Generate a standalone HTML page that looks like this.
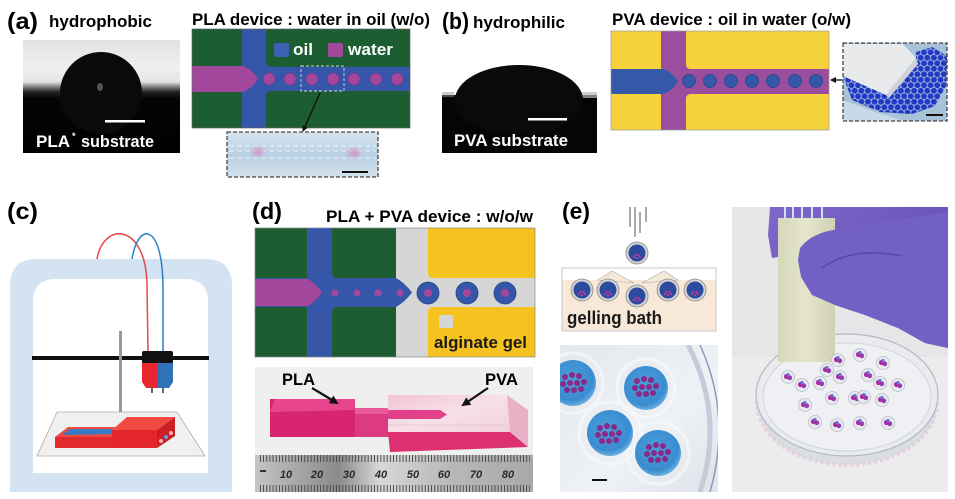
<!DOCTYPE html>
<html><head><meta charset="utf-8">
<style>
html,body{margin:0;padding:0;background:#fff;}
svg{display:block;}
text{font-family:"Liberation Sans",Arial,sans-serif;font-weight:bold;}
</style></head>
<body>
<svg width="955" height="499" viewBox="0 0 955 499" xmlns="http://www.w3.org/2000/svg">
<defs>
  <marker id="ah" markerWidth="9" markerHeight="9" refX="7" refY="4.5" orient="auto" markerUnits="userSpaceOnUse">
    <path d="M0,0 L9,4.5 L0,9 z" fill="#111"/>
  </marker>
  <marker id="ahs" markerWidth="6" markerHeight="6" refX="5" refY="3" orient="auto" markerUnits="userSpaceOnUse">
    <path d="M0,0 L6,3 L0,6 z" fill="#111"/>
  </marker>
  <linearGradient id="gA" x1="0" y1="0" x2="0" y2="1">
    <stop offset="0" stop-color="#e2e2e2"/>
    <stop offset="0.25" stop-color="#f0f0f0"/>
    <stop offset="0.37" stop-color="#e4e4e4"/>
    <stop offset="0.41" stop-color="#8a8a8a"/>
    <stop offset="0.46" stop-color="#222"/>
    <stop offset="0.52" stop-color="#050505"/>
    <stop offset="1" stop-color="#000"/>
  </linearGradient>
  <linearGradient id="gInA" x1="0" y1="0" x2="0" y2="1">
    <stop offset="0" stop-color="#d6e4ee"/>
    <stop offset="0.5" stop-color="#b8d0e2"/>
    <stop offset="1" stop-color="#d4e2ec"/>
  </linearGradient>
  <radialGradient id="pinkSpot">
    <stop offset="0" stop-color="#d88cc8" stop-opacity="0.9"/>
    <stop offset="1" stop-color="#d88cc8" stop-opacity="0"/>
  </radialGradient>
  <pattern id="beadPat" patternUnits="userSpaceOnUse" width="6.6" height="11">
    <rect width="6.6" height="11" fill="#8eaedc"/>
    <circle cx="3.3" cy="2.75" r="2.9" fill="#2538c4"/>
    <circle cx="0" cy="8.25" r="2.9" fill="#2538c4"/>
    <circle cx="6.6" cy="8.25" r="2.9" fill="#2538c4"/>
  </pattern>
  <pattern id="tick" patternUnits="userSpaceOnUse" width="3.17" height="8">
    <rect x="0" y="0" width="0.9" height="8" fill="#444"/>
  </pattern>
  <linearGradient id="ruler" x1="0" y1="0" x2="1" y2="0">
    <stop offset="0" stop-color="#c4c4c4"/>
    <stop offset="0.3" stop-color="#8a8a8a"/>
    <stop offset="0.45" stop-color="#d8d8d8"/>
    <stop offset="0.7" stop-color="#b8b8b8"/>
    <stop offset="1" stop-color="#a8a8a8"/>
  </linearGradient>
  <linearGradient id="pvaTop" x1="0" y1="0" x2="1" y2="1">
    <stop offset="0" stop-color="#f2c4d6"/>
    <stop offset="0.5" stop-color="#f7e0e8"/>
    <stop offset="1" stop-color="#f0d0dc"/>
  </linearGradient>
  <linearGradient id="eBg" x1="0" y1="0" x2="1" y2="1">
    <stop offset="0" stop-color="#e4e8ee"/>
    <stop offset="0.6" stop-color="#eef1f5"/>
    <stop offset="1" stop-color="#dfe3ea"/>
  </linearGradient>
  <radialGradient id="bigBead" cx="0.45" cy="0.4" r="0.6">
    <stop offset="0" stop-color="#4aa0dc"/>
    <stop offset="0.8" stop-color="#3a8cd0"/>
    <stop offset="1" stop-color="#6aaee0"/>
  </radialGradient>
  <linearGradient id="glove" x1="0" y1="0" x2="1" y2="1">
    <stop offset="0" stop-color="#7e68cc"/>
    <stop offset="0.5" stop-color="#6c56bc"/>
    <stop offset="1" stop-color="#7a64c8"/>
  </linearGradient>
  <linearGradient id="devE" x1="0" y1="0" x2="1" y2="0">
    <stop offset="0" stop-color="#d6d8ba"/>
    <stop offset="0.5" stop-color="#e4e5cc"/>
    <stop offset="1" stop-color="#cfd1b2"/>
  </linearGradient>
  <g id="cl">
    <circle cx="-10" cy="-8" r="3" fill="#8a2a88"/>
    <circle cx="-3" cy="-10" r="3" fill="#8a2a88"/>
    <circle cx="4" cy="-9" r="3" fill="#8a2a88"/>
    <circle cx="-12" cy="-1" r="3" fill="#8a2a88"/>
    <circle cx="-5" cy="-2" r="3" fill="#8a2a88"/>
    <circle cx="2" cy="-2" r="3" fill="#8a2a88"/>
    <circle cx="9" cy="-3" r="3" fill="#8a2a88"/>
    <circle cx="-8" cy="5" r="3" fill="#8a2a88"/>
    <circle cx="-1" cy="5" r="3" fill="#8a2a88"/>
    <circle cx="6" cy="4" r="3" fill="#8a2a88"/>
  </g>
  <g id="sb">
    <circle r="6.5" fill="#e8eaf0" stroke="#b8bcc8" stroke-width="0.8"/>
    <circle cx="-1.5" cy="-0.5" r="2.6" fill="#b02ca0"/>
    <circle cx="1.8" cy="0.8" r="2.4" fill="#9a3ab0"/>
    <circle cx="0" cy="-2.5" r="1.6" fill="#5a7ad0"/>
  </g>
  <g id="bb">
    <circle r="11" fill="#d4d4d4" stroke="#8a8a8a" stroke-width="0.8"/>
    <circle r="8.5" fill="#2c4a9e"/>
    <circle cx="-3" cy="4" r="1" fill="#e0349c"/>
    <circle cx="0" cy="5" r="1" fill="#e0349c"/>
    <circle cx="3" cy="4" r="1" fill="#e0349c"/>
    <circle cx="-1.5" cy="2" r="1" fill="#e0349c"/>
    <circle cx="1.5" cy="2" r="1" fill="#e0349c"/>
  </g>
</defs>

<rect width="955" height="499" fill="#fff"/>

<!-- ================= (a) ================= -->
<text x="7" y="29" font-size="23" font-weight="normal" textLength="31" lengthAdjust="spacingAndGlyphs">(a)</text>
<text x="49" y="27" font-size="17" textLength="103" lengthAdjust="spacingAndGlyphs">hydrophobic</text>

<rect x="23" y="40" width="157" height="113" fill="url(#gA)"/>
<circle cx="101" cy="93" r="41" fill="#0a0a0a"/>
<ellipse cx="100" cy="87" rx="3" ry="4" fill="#555"/>
<rect x="105" y="120" width="40" height="2.5" fill="#fff"/>
<text x="36" y="147" font-size="17" fill="#fff" textLength="34" lengthAdjust="spacingAndGlyphs">PLA</text>
<text x="72" y="139" font-size="9" fill="#fff">*</text>
<text x="81" y="147" font-size="17" fill="#fff" textLength="73" lengthAdjust="spacingAndGlyphs">substrate</text>

<text x="192" y="25" font-size="17" textLength="238" lengthAdjust="spacingAndGlyphs">PLA device : water in oil (w/o)</text>
<rect x="192" y="29" width="218" height="99" fill="#3656aa"/>
<rect x="192" y="29" width="50" height="38" fill="#1c5e31"/>
<rect x="192" y="91" width="50" height="37" fill="#1c5e31"/>
<path d="M266,29 H410 V67 H271 Q266,67 266,62 Z" fill="#1c5e31"/>
<path d="M266,128 H410 V91 H271 Q266,91 266,96 Z" fill="#1c5e31"/>
<path d="M192,66 H242 Q252,69 258,79 Q252,89 242,92 H192 Z" fill="#a3479c"/>
<g fill="#a3479c" stroke="#7a2e78" stroke-width="0.5">
  <circle cx="269" cy="79" r="6"/><circle cx="290" cy="79" r="6"/><circle cx="312" cy="79" r="6"/>
  <circle cx="333" cy="79" r="6"/><circle cx="354" cy="79" r="6"/><circle cx="376" cy="79" r="6"/>
  <circle cx="397" cy="79" r="6"/>
</g>
<rect x="192" y="29" width="218" height="99" fill="none" stroke="#666" stroke-width="0.7"/>
<rect x="274" y="43" width="15" height="14" rx="2" fill="#3d62b4"/>
<text x="293" y="55" font-size="17" fill="#fff" textLength="20" lengthAdjust="spacingAndGlyphs">oil</text>
<rect x="328" y="43" width="15" height="14" rx="2" fill="#a3479c"/>
<text x="348" y="55" font-size="17" fill="#fff" textLength="45" lengthAdjust="spacingAndGlyphs">water</text>
<rect x="301" y="66" width="43" height="25" fill="none" stroke="#d8d8e8" stroke-width="0.9" stroke-dasharray="3,2"/>
<line x1="320" y1="93" x2="303" y2="131" stroke="#111" stroke-width="1.4" marker-end="url(#ahs)"/>

<rect x="227" y="132" width="151" height="45" fill="url(#gInA)"/>
<g stroke="#eef4f8" stroke-width="1.2" stroke-dasharray="5,3" opacity="0.8">
  <line x1="229" y1="146" x2="376" y2="146"/>
  <line x1="229" y1="151" x2="376" y2="151"/>
  <line x1="229" y1="158" x2="376" y2="158"/>
</g>
<ellipse cx="258" cy="152" rx="9" ry="7" fill="url(#pinkSpot)"/>
<ellipse cx="354" cy="153" rx="9" ry="7" fill="url(#pinkSpot)"/>
<rect x="342" y="171" width="26" height="2" fill="#111"/>
<rect x="227" y="132" width="151" height="45" fill="none" stroke="#444" stroke-width="1.3" stroke-dasharray="4,2"/>

<!-- ================= (b) ================= -->
<text x="442" y="29" font-size="23" font-weight="normal" textLength="27" lengthAdjust="spacingAndGlyphs">(b)</text>
<text x="473" y="28" font-size="17" textLength="92" lengthAdjust="spacingAndGlyphs">hydrophilic</text>

<rect x="442" y="95" width="155" height="58" fill="#050505"/>
<rect x="577" y="92" width="20" height="6" fill="#bbb" opacity="0.7"/>
<rect x="442" y="92" width="12" height="5" fill="#999" opacity="0.5"/>
<ellipse cx="519" cy="100" rx="64" ry="35" fill="#0a0a0a"/>
<rect x="528" y="118" width="39" height="2.5" fill="#fff"/>
<text x="454" y="146" font-size="17" fill="#fff" textLength="114" lengthAdjust="spacingAndGlyphs">PVA substrate</text>

<text x="612" y="25" font-size="17" textLength="239" lengthAdjust="spacingAndGlyphs">PVA device : oil in water (o/w)</text>
<rect x="611" y="31" width="218" height="99" fill="#9a4f9e"/>
<rect x="611" y="31" width="50" height="38" fill="#f6d23c"/>
<rect x="611" y="94" width="50" height="36" fill="#f6d23c"/>
<path d="M686,31 H829 V69 H691 Q686,69 686,64 Z" fill="#f6d23c"/>
<path d="M686,130 H829 V94 H691 Q686,94 686,99 Z" fill="#f6d23c"/>
<path d="M611,69 H663 Q672,72 678,81.5 Q672,91 663,94 H611 Z" fill="#3558a8"/>
<g fill="#3558a8" stroke="#26408c" stroke-width="0.7">
  <circle cx="689" cy="81" r="6.5"/><circle cx="710" cy="81" r="6.5"/><circle cx="731" cy="81" r="6.5"/>
  <circle cx="752" cy="81" r="6.5"/><circle cx="773" cy="81" r="6.5"/><circle cx="795" cy="81" r="6.5"/>
  <circle cx="816" cy="81" r="6.5"/>
</g>
<rect x="611" y="31" width="218" height="99" fill="none" stroke="#999" stroke-width="0.7"/>
<line x1="842" y1="80" x2="831" y2="80" stroke="#111" stroke-width="1.3" marker-end="url(#ahs)"/>

<rect x="843" y="43" width="104" height="78" fill="#a8c2d8"/>
<path d="M843,100 L875,112 L905,121 L843,121 Z" fill="#c8dae8"/>
<path d="M843,76 L852,100 L880,112 L912,114 L935,106 L946,86 L947,56 L932,47 L916,52 L916,58 L886,95 Z" fill="url(#beadPat)"/>
<path d="M843,44 L903,44 L916,58 L886,95 L843,76 Z" fill="#e8eaec"/>
<path d="M886,95 L916,58 L918,64 L889,98 Z" fill="#cfd3d8"/>
<rect x="926" y="114" width="17" height="2" fill="#111"/>
<rect x="843" y="43" width="104" height="78" fill="none" stroke="#444" stroke-width="1.3" stroke-dasharray="4,2"/>

<!-- ================= (c) ================= -->
<text x="7" y="219" font-size="23" font-weight="normal" textLength="31" lengthAdjust="spacingAndGlyphs">(c)</text>
<path d="M10,492 V286 Q10,259 37,259 H205 Q232,259 232,286 V492 Z" fill="#d4e3f2"/>
<path d="M33,473 V302 Q33,279 56,279 H185 Q208,279 208,302 V473 Z" fill="#fff"/>
<path d="M97,259 C103,222 146,222 147,285 L148,352" fill="none" stroke="#e8444c" stroke-width="1.5"/>
<path d="M132,259 C138,222 162,222 163,285 L163,352" fill="none" stroke="#2f7ec4" stroke-width="1.5"/>
<rect x="32" y="356" width="177" height="4" fill="#111"/>
<rect x="119" y="331" width="3" height="81" fill="#999"/>
<rect x="142" y="351" width="31" height="13" rx="2" fill="#111"/>
<path d="M142,363 H157.5 V388 H146 L142,382 Z" fill="#e8282e"/>
<path d="M157.5,363 H173 V382 L169,388 H157.5 Z" fill="#2f72b8"/>
<rect x="151" y="388" width="2" height="5" fill="#666"/>
<rect x="162" y="388" width="2" height="5" fill="#666"/>
<polygon points="57,412 177,412 205,456 37,456" fill="#f0f0f0" stroke="#aaa" stroke-width="0.8"/>
<polygon points="55,437 68,427 125,427 112,437" fill="#ef4a40"/>
<polygon points="62,435 70,429 122,429 116,434" fill="#3a7ac4"/>
<rect x="55" y="437" width="57" height="11" fill="#e22a2e"/>
<polygon points="112,430 127,417 175,417 157,430" fill="#f04a42"/>
<rect x="112" y="430" width="45" height="18" fill="#e4262c"/>
<polygon points="157,430 175,417 175,436 157,448" fill="#cc1e24"/>
<circle cx="161" cy="441" r="2" fill="#f4b0b8"/>
<circle cx="166" cy="437" r="2" fill="#5aa0e0"/>
<circle cx="171" cy="433" r="2" fill="#f4b0b8"/>

<!-- ================= (d) ================= -->
<text x="252" y="219" font-size="23" font-weight="normal" textLength="30" lengthAdjust="spacingAndGlyphs">(d)</text>
<text x="326" y="222" font-size="17" textLength="207" lengthAdjust="spacingAndGlyphs">PLA + PVA device : w/o/w</text>

<rect x="255" y="228" width="280" height="129" fill="#d6d6d6"/>
<rect x="255" y="228" width="141" height="129" fill="#3656aa"/>
<rect x="255" y="228" width="52" height="50" fill="#1c5e31"/>
<rect x="255" y="307" width="52" height="50" fill="#1c5e31"/>
<path d="M332,228 H396 V278 H337 Q332,278 332,273 Z" fill="#1c5e31"/>
<path d="M332,357 H396 V307 H337 Q332,307 332,312 Z" fill="#1c5e31"/>
<path d="M396,278 Q405,283 412,292.5 Q405,302 396,307 Z" fill="#3656aa"/>
<path d="M255,279 H308 Q316,284 322,292.5 Q316,301 308,306 H255 Z" fill="#a3479c"/>
<g fill="#a3479c">
  <circle cx="335" cy="293" r="3.6"/><circle cx="357" cy="293" r="3.6"/>
  <circle cx="378" cy="293" r="3.6"/><circle cx="400" cy="293" r="3.6"/>
</g>
<path d="M428,228 H535 V278 H433 Q428,278 428,273 Z" fill="#f6c21f"/>
<path d="M428,357 H535 V307 H433 Q428,307 428,312 Z" fill="#f6c21f"/>
<g fill="#3656aa" stroke="#24408a" stroke-width="0.8">
  <circle cx="428" cy="293" r="11"/><circle cx="467" cy="293" r="11"/><circle cx="505" cy="293" r="11"/>
</g>
<g fill="#a3479c">
  <circle cx="428" cy="293" r="4"/><circle cx="467" cy="293" r="4"/><circle cx="505" cy="293" r="4"/>
</g>
<rect x="255" y="228" width="280" height="129" fill="none" stroke="#888" stroke-width="0.7"/>
<rect x="439" y="315" width="14" height="13" rx="2" fill="#d6d6d6"/>
<text x="434" y="348" font-size="17" fill="#1a1a1a" textLength="93" lengthAdjust="spacingAndGlyphs">alginate gel</text>

<rect x="255" y="367" width="278" height="88" fill="#efefee"/>
<rect x="270" y="399" width="85" height="38" fill="#d8256f"/>
<polygon points="270,412 275,399 355,399 355,410" fill="#e8468c"/>
<rect x="355" y="408" width="36" height="29" fill="#dc3a82"/>
<polygon points="355,408 391,408 391,414 355,414" fill="#e85a98"/>
<polygon points="388,395 507,395 510,432 388,432" fill="url(#pvaTop)"/>
<polygon points="388,432 510,432 528,447 390,452" fill="#dc3070"/>
<polygon points="507,395 528,410 528,447 510,432" fill="#eab0c6"/>
<path d="M388,410 H440 L447,414.5 L440,419 H388 Z" fill="#e0418a"/>
<line x1="388" y1="425" x2="507" y2="425" stroke="#ecc4d4" stroke-width="1"/>
<text x="282" y="385" font-size="17" textLength="33" lengthAdjust="spacingAndGlyphs">PLA</text>
<text x="485" y="385" font-size="17" textLength="33" lengthAdjust="spacingAndGlyphs">PVA</text>
<line x1="312" y1="388" x2="337" y2="403" stroke="#111" stroke-width="2.2" marker-end="url(#ah)"/>
<line x1="488" y1="388" x2="463" y2="405" stroke="#111" stroke-width="2.2" marker-end="url(#ah)"/>

<rect x="255" y="455" width="278" height="37" fill="url(#ruler)"/>
<rect x="258" y="455" width="272" height="7" fill="url(#tick)"/>
<rect x="258" y="485" width="272" height="7" fill="url(#tick)"/>
<g fill="#2a2a2a" font-size="11" font-weight="normal" font-style="italic" text-anchor="middle">
  <text x="286" y="478">10</text><text x="317" y="478">20</text><text x="349" y="478">30</text>
  <text x="381" y="478">40</text><text x="413" y="478">50</text><text x="444" y="478">60</text>
  <text x="476" y="478">70</text><text x="508" y="478">80</text>
</g>
<rect x="260" y="470" width="6" height="2" fill="#333"/>

<!-- ================= (e) ================= -->
<text x="562" y="219" font-size="23" font-weight="normal" textLength="28" lengthAdjust="spacingAndGlyphs">(e)</text>
<g stroke="#555" stroke-width="1">
  <line x1="630" y1="207" x2="630" y2="227"/>
  <line x1="635" y1="207" x2="635" y2="237"/>
  <line x1="640" y1="212" x2="640" y2="233"/>
  <line x1="646" y1="207" x2="646" y2="222"/>
</g>
<use href="#bb" x="637" y="253"/>
<rect x="562" y="268" width="154" height="63" fill="#fff" stroke="#bbb" stroke-width="0.8"/>
<rect x="562.5" y="280" width="153" height="50.5" fill="#f7e8d8"/>
<polygon points="598,280 612,271 634,283" fill="#f7e8d8" stroke="#aaa" stroke-width="0.6"/>
<polygon points="678,280 664,271 642,283" fill="#f7e8d8" stroke="#aaa" stroke-width="0.6"/>
<use href="#bb" x="582" y="290"/>
<use href="#bb" x="608" y="290"/>
<use href="#bb" x="637" y="296"/>
<use href="#bb" x="668" y="290"/>
<use href="#bb" x="695" y="290"/>
<text x="567" y="324" font-size="18" fill="#1a1a1a" textLength="95" lengthAdjust="spacingAndGlyphs">gelling bath</text>

<svg x="560" y="345" width="158" height="147" overflow="hidden">
  <rect width="158" height="147" fill="url(#eBg)"/>
  <path d="M128,0 Q165,70 140,147" fill="none" stroke="#c4ccda" stroke-width="5"/>
  <path d="M140,0 Q172,70 150,147" fill="none" stroke="#8e9ab8" stroke-width="1.5"/>
  <g fill="none" stroke="#f6f8fb" stroke-width="3" opacity="0.8">
    <circle cx="13" cy="38" r="30"/><circle cx="86" cy="43" r="29"/>
    <circle cx="50" cy="88" r="31"/><circle cx="98" cy="108" r="31"/>
  </g>
  <circle cx="13" cy="38" r="23" fill="url(#bigBead)"/>
  <circle cx="86" cy="43" r="22" fill="url(#bigBead)"/>
  <circle cx="50" cy="88" r="23" fill="url(#bigBead)"/>
  <circle cx="98" cy="108" r="23" fill="url(#bigBead)"/>
  <use href="#cl" x="15" y="40"/>
  <use href="#cl" x="87" y="44"/>
  <use href="#cl" x="50" y="91"/>
  <use href="#cl" x="99" y="110"/>
  <rect x="32" y="134" width="15" height="2" fill="#111"/>
</svg>

<!-- photo e-right -->
<rect x="732" y="207" width="216" height="285" fill="#ececec"/>
<rect x="732" y="207" width="216" height="150" fill="#e6e6e8"/>
<ellipse cx="847" cy="403" rx="90" ry="62" fill="#dadde2"/>
<ellipse cx="847" cy="403" rx="90" ry="62" fill="none" stroke="#e6c8dc" stroke-width="4" stroke-dasharray="3,3" opacity="0.7"/>
<ellipse cx="847" cy="395" rx="91" ry="61" fill="#e9ebef" stroke="#b4b8c4" stroke-width="1.2"/>
<ellipse cx="847" cy="397" rx="84" ry="54" fill="#eef0f3" stroke="#d0d4dc" stroke-width="1"/>
<path d="M770,207 H948 V348 L925,343 L898,328 L865,315 L835,305 L812,295 L800,275 L798,258 L790,255 L772,258 L768,235 Z" fill="url(#glove)"/>
<rect x="778" y="218" width="57" height="144" fill="url(#devE)"/>
<g stroke="#cfe0f0" stroke-width="2">
  <line x1="785" y1="207" x2="785" y2="219"/><line x1="793" y1="207" x2="793" y2="219"/>
  <line x1="802" y1="207" x2="802" y2="219"/><line x1="812" y1="207" x2="812" y2="219"/>
  <line x1="822" y1="207" x2="822" y2="219"/>
</g>
<path d="M800,248 Q812,232 840,229 L948,212 V348 L925,343 L898,328 L865,315 L835,305 L812,295 L801,277 L798,260 Z" fill="#7360c4"/>
<path d="M822,268 Q852,246 902,256" fill="none" stroke="#5a46a8" stroke-width="1.5"/>
<use href="#sb" x="788" y="377"/>
<use href="#sb" x="802" y="385"/>
<use href="#sb" x="820" y="383"/>
<use href="#sb" x="827" y="370"/>
<use href="#sb" x="840" y="377"/>
<use href="#sb" x="838" y="360"/>
<use href="#sb" x="860" y="355"/>
<use href="#sb" x="883" y="363"/>
<use href="#sb" x="868" y="375"/>
<use href="#sb" x="880" y="383"/>
<use href="#sb" x="898" y="385"/>
<use href="#sb" x="805" y="405"/>
<use href="#sb" x="832" y="398"/>
<use href="#sb" x="855" y="398"/>
<use href="#sb" x="864" y="397"/>
<use href="#sb" x="882" y="400"/>
<use href="#sb" x="815" y="422"/>
<use href="#sb" x="837" y="425"/>
<use href="#sb" x="860" y="423"/>
<use href="#sb" x="888" y="423"/>
</svg>
</body></html>
